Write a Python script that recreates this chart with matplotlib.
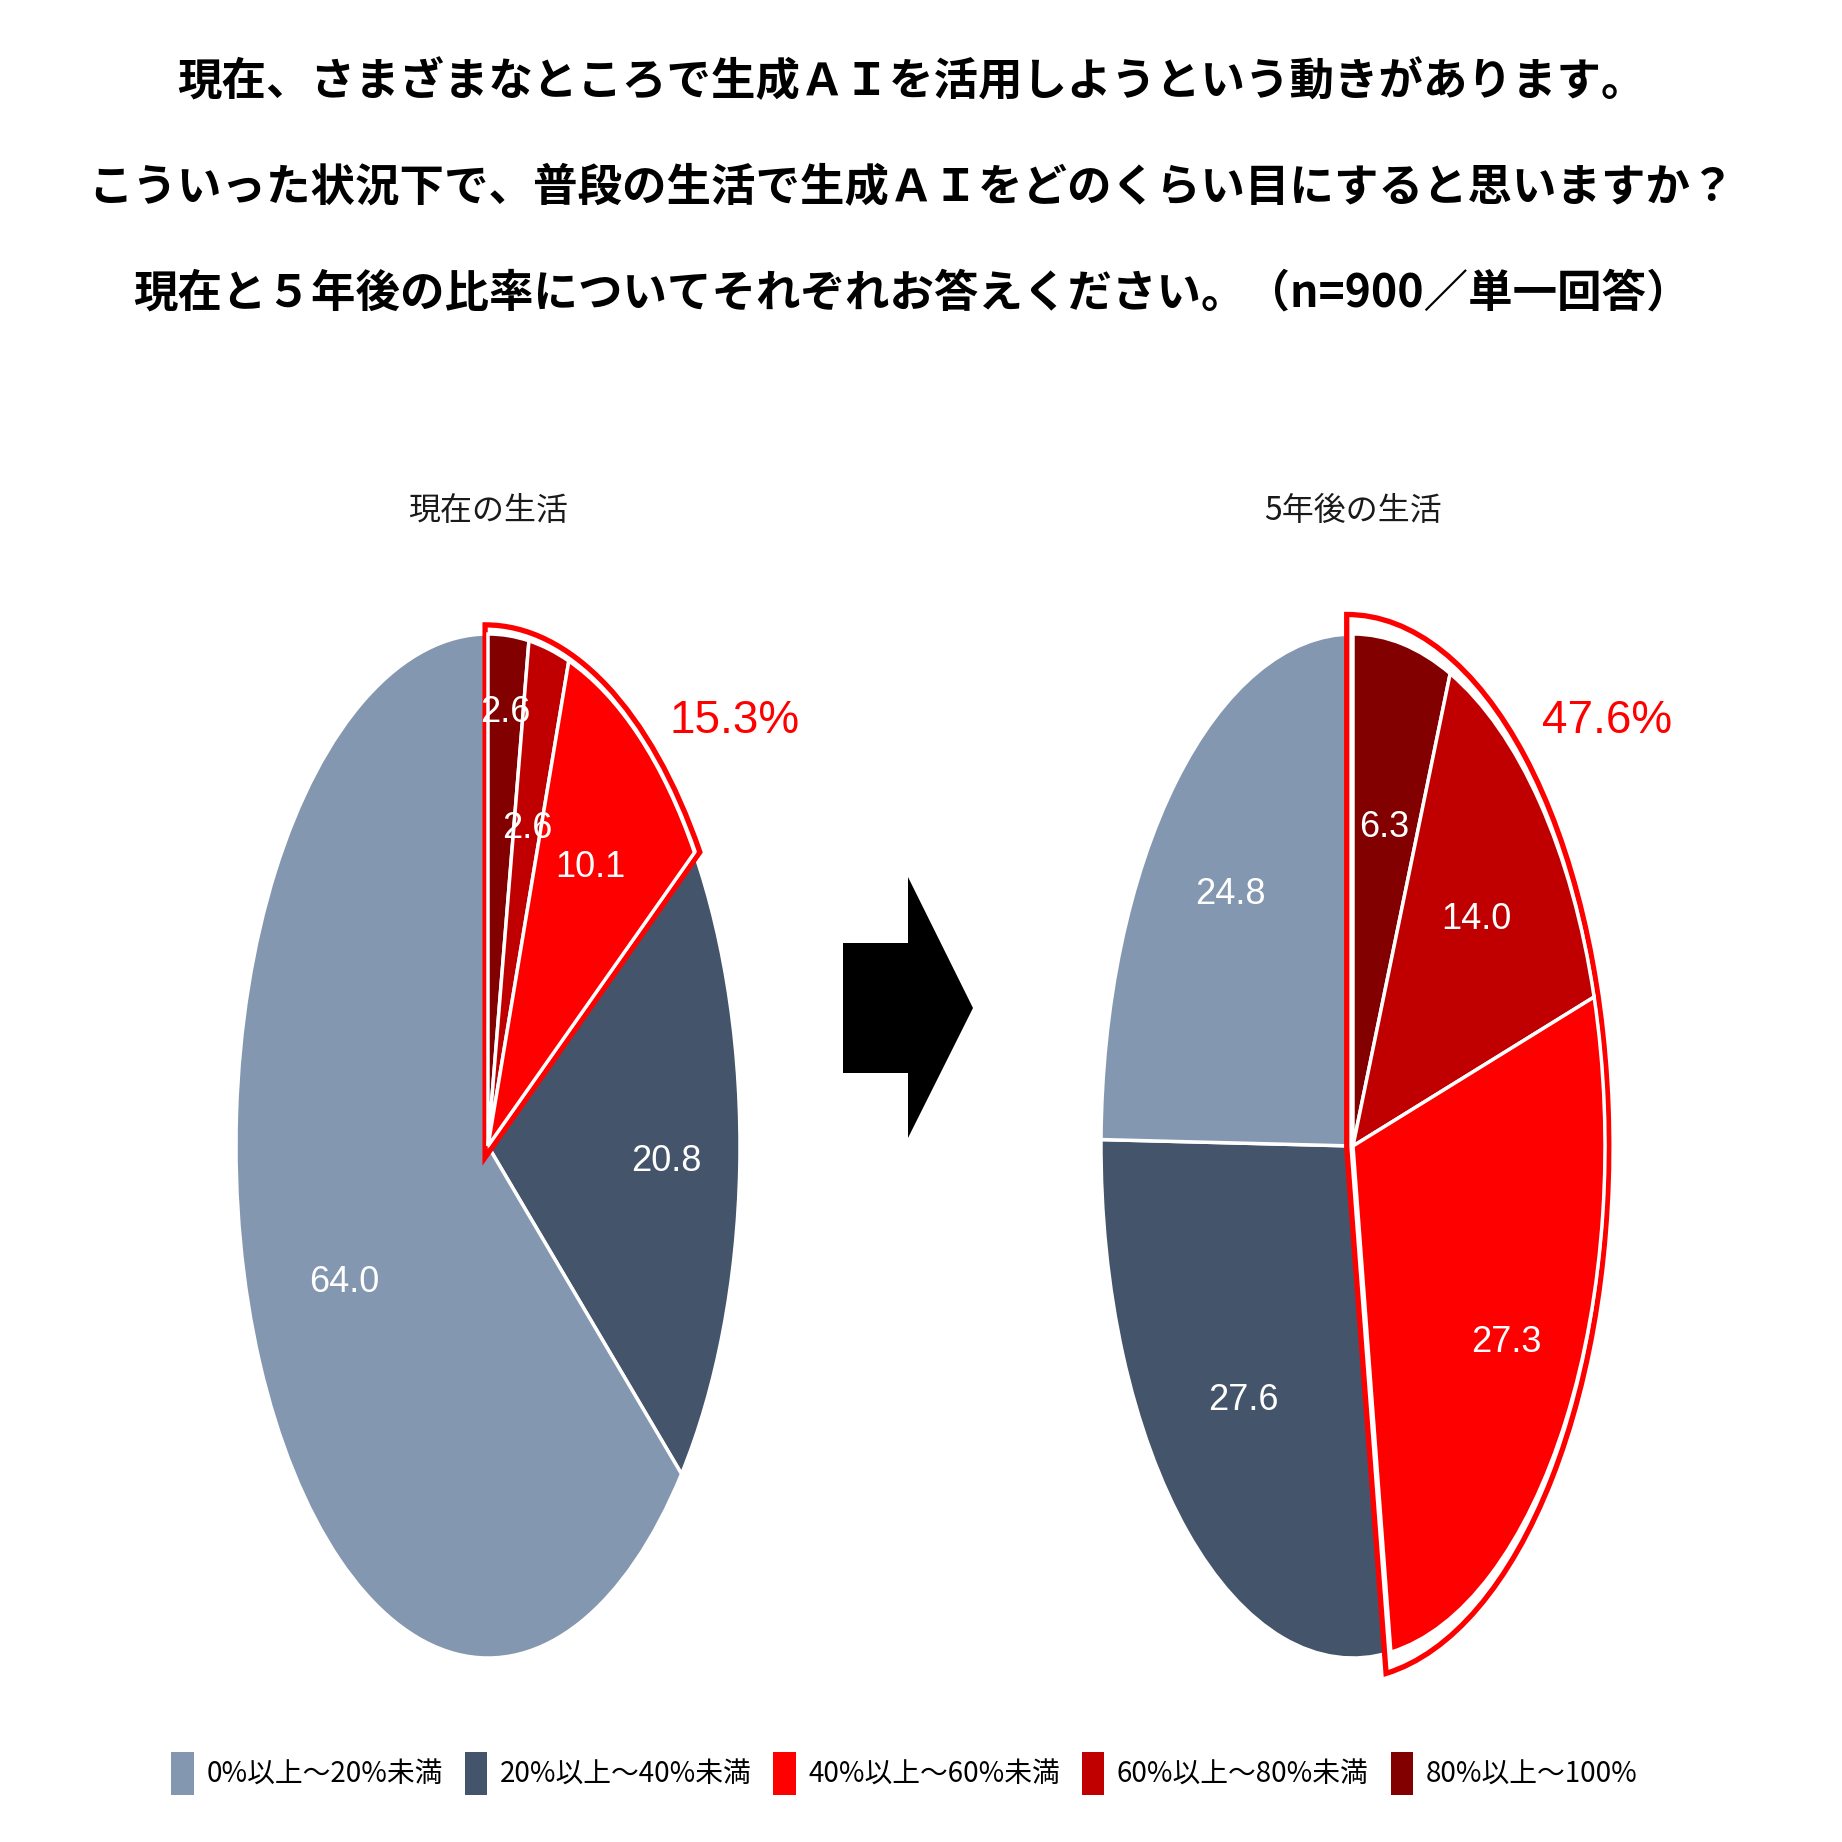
import numpy as np
import matplotlib
matplotlib.use("Agg")
import matplotlib.pyplot as plt
import matplotlib.font_manager as fm
from matplotlib.patches import Wedge, Patch, Polygon

#=======================================================
# Data
#=======================================================

categories = ["0%以上～20%未満", "20%以上～40%未満", "40%以上～60%未満",
              "60%以上～80%未満", "80%以上～100%"]
colors = ["#8497B0", "#44546A", "#FF0000", "#C00000", "#820000"]

now_vals = [64.0, 20.8, 10.1, 2.6, 2.6]
future_vals = [24.8, 27.6, 27.3, 14.0, 6.3]

pie_titles = ["現在の生活", "5年後の生活"]
title_lines = [
    "現在、さまざまなところで生成ＡＩを活用しようという動きがあります。",
    "こういった状況下で、普段の生活で生成ＡＩをどのくらい目にすると思いますか？",
    "現在と５年後の比率についてそれぞれお答えください。（n=900／単一回答）",
]

#=======================================================
# Fonts / layout
#=======================================================

names = {f.name for f in fm.fontManager.ttflist}
num_font = "Liberation Sans Narrow" if "Liberation Sans Narrow" in names else "Liberation Sans"
jp = ["Noto Sans CJK JP", "DejaVu Sans"]
plt.rcParams["font.family"] = jp

W = 1842
fig = plt.figure(figsize=(W / 100, W / 100), dpi=100)

# pie centres and radii in pixels (top-left origin)
centers = [(488, 1146), (1353, 1146)]
rx, ry = 252, 512
lim = 1.2
label_r = [[0.63, 0.71, 0.68, 0.64, 0.85],
           [0.69, 0.66, 0.72, 0.66, 0.635]]
pct_pos = [(0.98, 0.83), (1.01, 0.83)]

for k, vals in enumerate([now_vals, future_vals]):
    cx, cy = centers[k]
    ax = fig.add_axes([(cx - lim * rx) / W, (W - cy - lim * ry) / W,
                       2 * lim * rx / W, 2 * lim * ry / W])
    # draw clockwise from 12 o'clock, highest band first
    v = vals[::-1]
    c = colors[::-1]
    wedges, _ = ax.pie(v, colors=c, startangle=90, counterclock=False,
                       wedgeprops=dict(edgecolor="white", linewidth=2.5))
    ax.set_aspect("auto")
    ax.set_xlim(-lim, lim)
    ax.set_ylim(-lim, lim)
    ax.axis("off")

    # highlight outline around the top three bands
    t_lo = wedges[2].theta1
    t_hi = wedges[0].theta2
    mid = np.deg2rad((t_lo + t_hi) / 2)
    off = 0.025
    outline = Wedge((-off * np.cos(mid), -off * np.sin(mid)), 1.04, t_lo, t_hi,
                    facecolor="white", edgecolor="#FF0000", linewidth=3.8, zorder=2)
    ax.add_patch(outline)
    for i, w in enumerate(wedges):
        w.set_zorder(3 if i < 3 else 1)

    # value labels
    for i, w in enumerate(wedges):
        a = np.deg2rad((w.theta1 + w.theta2) / 2)
        r = label_r[k][4 - i]
        ax.text(r * np.cos(a), r * np.sin(a), f"{v[i]:.1f}", color="white",
                fontsize=26, family=num_font, ha="center", va="center", zorder=5)

    total = sum(v[:3])
    ax.text(pct_pos[k][0], pct_pos[k][1], f"{total:.1f}%", color="#FF0000",
            fontsize=33, family=num_font, ha="center", va="center", zorder=5)

    fig.text(cx / W, 1 - 511 / W, pie_titles[k], fontsize=23, ha="center",
             va="center", color="#1a1a1a")

#=======================================================
# Title
#=======================================================

for j, line in enumerate(title_lines):
    fig.text(0.495, 1 - (82 + 106 * j) / W, line, fontsize=32, fontweight="bold",
             ha="center", va="center", color="black")

#=======================================================
# Arrow
#=======================================================

arrow_px = [(843, 943), (908, 943), (908, 877), (973, 1008), (908, 1138),
            (908, 1073), (843, 1073)]
fig.patches.append(Polygon([(x / W, 1 - y / W) for x, y in arrow_px], closed=True,
                           facecolor="black", edgecolor="none",
                           transform=fig.transFigure, figure=fig))

#=======================================================
# Legend
#=======================================================

handles = [Patch(facecolor=col, edgecolor="none") for col in colors]
fig.legend(handles, categories, ncol=5, loc="center", bbox_to_anchor=(0.491, 0.037),
           frameon=False, prop=fm.FontProperties(family=jp, size=20),
           handlelength=0.8, handleheight=2.0, handletextpad=0.45, columnspacing=0.8)

fig.savefig("out.png", dpi=100, facecolor="white")
